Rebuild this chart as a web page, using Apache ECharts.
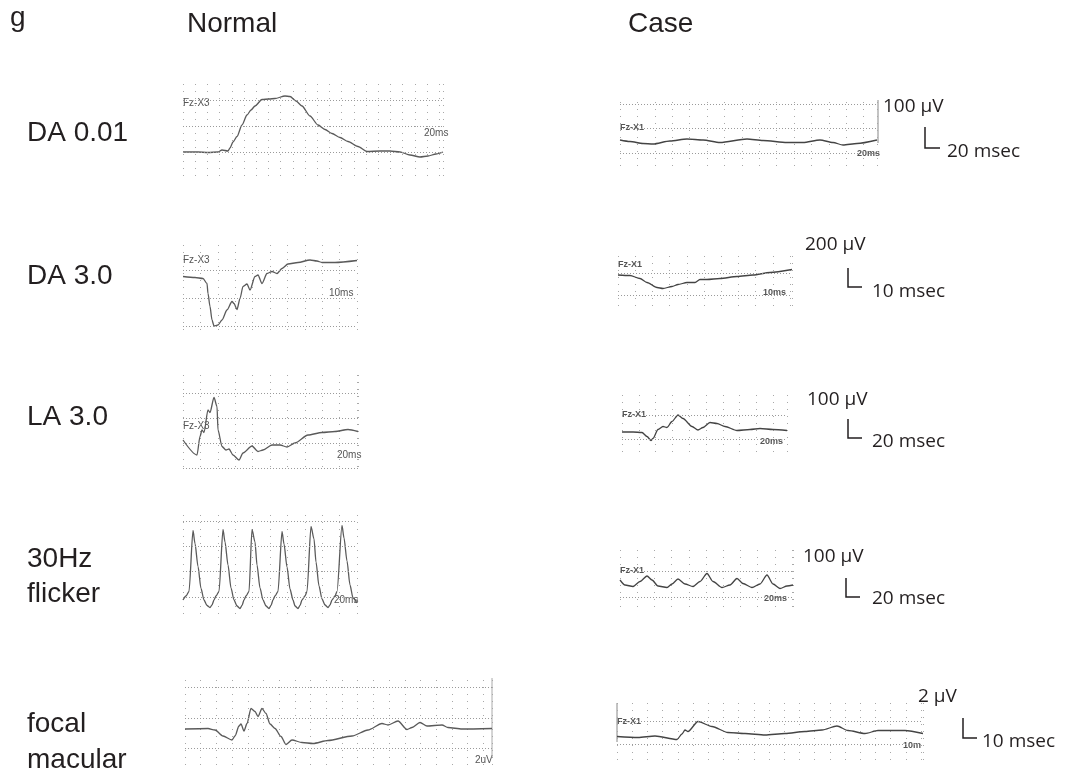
<!DOCTYPE html>
<html>
<head>
<meta charset="utf-8">
<script src="https://cdn.jsdelivr.net/npm/echarts@6/dist/echarts.min.js"></script>
<style>
  body { margin: 0; background: #fff; }
  #chart { width: 1066px; height: 775px; }
</style>
</head>
<body>
<div id="chart"></div>
<script>
// traces: [time ms, amplitude µV]
var normalDA001 = [[0,0],[15,0],[25,-1],[35,0],[39,4],[45,2],[47,8],[50,20],[54,31],[59,54],[64,74],[68,84],[72,92],[79,105],[86,106],[92,107],[102,112],[107,111],[113,102],[119,92],[127,72],[135,54],[142,45],[149,37],[157,29],[165,21],[175,11],[184,1],[197,2],[207,2],[217,0],[227,-6],[237,-10],[245,-8],[253,-4],[260,0]];
var caseDA001 = [[0,26],[10,23],[23,19],[33,18],[50,24],[67,28],[83,26],[100,21],[127,28],[143,25],[167,21],[183,21],[200,26],[213,21],[223,16],[237,19],[257,26]];
var normalDA30 = [[0,43],[12,41],[20,39],[24,29],[25,9],[27,-17],[29,-44],[31,-56],[35,-54],[39,-44],[44,-24],[49,-7],[51,-11],[54,-23],[57,-1],[60,23],[64,28],[67,16],[72,43],[75,46],[79,29],[84,49],[89,53],[94,49],[99,59],[105,68],[115,71],[127,76],[134,74],[139,71],[152,71],[174,75]];
var caseDA30 = [[0,40],[12,39],[22,33],[29,25],[39,15],[45,13],[54,17],[60,21],[69,25],[77,25],[82,31],[89,31],[102,33],[119,37],[135,40],[152,45],[174,51]];
var normalLA30 = [[0,6],[14,-24],[17,13],[19,26],[21,21],[25,66],[27,61],[31,91],[34,73],[35,26],[39,-7],[43,-14],[46,-12],[50,-24],[56,-34],[60,-20],[69,-6],[75,-17],[80,-14],[89,-4],[97,-4],[104,-8],[112,0],[125,16],[139,21],[152,23],[165,27],[175,23]];
var caseLA30 = [[0,14],[11,14],[20,13],[25,5],[29,-3],[31,1],[36,19],[41,25],[45,23],[50,35],[56,48],[61,41],[70,25],[76,18],[81,23],[88,33],[95,31],[103,25],[115,17],[128,19],[138,21],[151,19],[165,17]];
var normalFlicker = [[0,-6],[3,2],[6,11],[10,133],[12,107],[15,61],[18,17],[21,-6],[24,-17],[27,-21],[29,-16],[31,-6],[33,2],[36,11],
    [40,135],[42,110],[45,64],[48,18],[51,-6],[54,-18],[57,-23],[59,-17],[61,-6],[63,2],[66,11],
    [69,135],[72,110],[74,64],[77,18],[80,-6],[83,-18],[86,-23],[88,-17],[90,-6],[92,2],[95,11],
    [99,131],[101,106],[104,60],[107,16],[110,-6],[112,-18],[115,-23],[117,-17],[119,-6],[122,2],[124,11],
    [128,141],[131,116],[133,70],[136,22],[139,-4],[142,-16],[145,-21],[147,-16],[149,-6],[152,2],[154,11],
    [159,143],[161,118],[164,72],[167,24],[170,-2],[174,-12]];
var caseFlicker = [[0,34],[5,24],[13,21],[20,31],[27,42],[32,34],[38,22],[47,19],[52,26],[58,36],[65,26],[73,21],[80,31],[87,47],[93,31],[102,19],[110,24],[117,37],[123,27],[132,19],[140,26],[147,44],[153,26],[160,17],[167,22],[173,24]];
var normalMacular = [[0,-22],[23,-21],[30,-24],[38,-36],[47,-44],[50,-36],[54,-16],[56,-12],[59,-26],[62,-11],[66,19],[70,13],[73,3],[77,19],[81,9],[85,-12],[90,-21],[96,-37],[101,-53],[107,-44],[117,-49],[128,-51],[143,-45],[167,-36],[183,-24],[197,-11],[203,-14],[213,-6],[222,-23],[227,-19],[235,-9],[242,-16],[257,-14],[263,-19],[277,-22],[307,-21]];
var caseMacular = [[0,15],[21,13],[38,16],[60,9],[65,20],[68,28],[71,25],[81,45],[95,35],[111,23],[128,21],[148,18],[168,21],[188,25],[205,28],[220,36],[231,27],[248,21],[261,27],[275,27],[288,27],[306,21]];

// dotted horizontal gridline levels (µV) on each printout
var normalDA001Lines = [104, 52, 0];
var caseDA001Lines = [98, 49, 0];
var normalDA30Lines = [56, 0, -56];
var caseDA30Lines = [43, 0];
var normalLA30Lines = [100, 50, 0, -50];
var caseLA30Lines = [48, 0];
var normalFlickerLines = [151, 102, 51, 0];
var caseFlickerLines = [52, 0];
var normalMacularLines = [61, 0, -61];
var caseMacularLines = [45, 0];

var rowLabels = ['DA 0.01', 'DA 3.0', 'LA 3.0', '30Hz\nflicker', 'focal\nmacular'];
var scaleAmp = ['100 µV', '200 µV', '100 µV', '100 µV', '2 µV'];
var scaleTime = ['20 msec', '10 msec', '20 msec', '20 msec', '10 msec'];

var panels = [
    {data: normalDA001, lines: normalDA001Lines, left: 183, top: 84, width: 260, height: 94, xMax: 260, xStep: 12.2, yMin: -52, yMax: 136, color: '#5a5a5a'},
    {data: caseDA001, lines: caseDA001Lines, left: 620, top: 102, width: 257, height: 70, xMax: 257, xStep: 17.4, yMin: -38, yMax: 102, color: '#444'},
    {data: normalDA30, lines: normalDA30Lines, left: 183, top: 245, width: 174, height: 85, xMax: 174, xStep: 17.4, yMin: -64, yMax: 106, color: '#5a5a5a'},
    {data: caseDA30, lines: caseDA30Lines, left: 618, top: 256, width: 174, height: 53, xMax: 174, xStep: 17.2, yMin: -28, yMax: 78, color: '#444'},
    {data: normalLA30, lines: normalLA30Lines, left: 183, top: 375, width: 175, height: 95, xMax: 175, xStep: 17.4, yMin: -54, yMax: 136, color: '#5a5a5a'},
    {data: caseLA30, lines: caseLA30Lines, left: 622, top: 395, width: 165, height: 63, xMax: 165, xStep: 16.8, yMin: -38, yMax: 88, color: '#444'},
    {data: normalFlicker, lines: normalFlickerLines, left: 183, top: 515, width: 174, height: 102, xMax: 174, xStep: 17.4, yMin: -40, yMax: 164, color: '#5a5a5a'},
    {data: caseFlicker, lines: caseFlickerLines, left: 620, top: 550, width: 173, height: 62, xMax: 173, xStep: 17.2, yMin: -30, yMax: 94, color: '#444'},
    {data: normalMacular, lines: normalMacularLines, left: 185, top: 680, width: 307, height: 85, xMax: 307, xStep: 15.7, yMin: -94, yMax: 76, color: '#5a5a5a'},
    {data: caseMacular, lines: caseMacularLines, left: 617, top: 703, width: 306, height: 57, xMax: 306, xStep: 15.2, yMin: -32, yMax: 82, color: '#444'}
];

var chart = echarts.init(document.getElementById('chart'));

var grids = [], xAxes = [], yAxes = [], series = [];
panels.forEach(function (p, i) {
    grids.push({left: p.left, top: p.top, width: p.width, height: p.height});
    xAxes.push({
        gridIndex: i, type: 'value', min: 0, max: p.xMax, interval: p.xStep,
        axisLine: {show: false}, axisTick: {show: false}, axisLabel: {show: false},
        splitLine: {show: true, lineStyle: {color: '#a8a8a8', type: [1, 6], width: 1}}
    });
    yAxes.push({gridIndex: i, type: 'value', min: p.yMin, max: p.yMax, show: false});
    series.push({
        type: 'line',
        xAxisIndex: i,
        yAxisIndex: i,
        data: p.data,
        symbol: 'none',
        smooth: 0.25,
        smoothMonotone: 'x',
        lineStyle: {color: p.color, width: 1.3},
        markLine: {
            silent: true,
            symbol: ['none', 'none'],
            label: {show: false},
            lineStyle: {color: '#9a9a9a', type: [1, 2], width: 1},
            data: p.lines.map(function (v) { return {yAxis: v}; })
        }
    });
});

var graphics = [];
function addText(txt, x, y, font, fill) {
    graphics.push({type: 'text', style: {text: txt, x: x, y: y, font: font, fill: fill, textAlign: 'left', textVerticalAlign: 'middle'}});
}
function addLine(pts, color, w) {
    graphics.push({type: 'polyline', shape: {points: pts}, style: {stroke: color, lineWidth: w, fill: null}});
}

var bigFont = '28px "Liberation Sans", Arial, sans-serif';
addText('g', 10, 18, bigFont, '#231f20');
addText('Normal', 187, 24, bigFont, '#231f20');
addText('Case', 628, 24, bigFont, '#231f20');

var labelY = [[133], [276], [417], [559, 594], [724, 760]];
rowLabels.forEach(function (lab, r) {
    lab.split('\n').forEach(function (part, k) {
        addText(part, 27, labelY[r][k], bigFont, '#231f20');
    });
});

// scale bars beside the case traces
var scaleFont = '19px "Open Sans", sans-serif';
var ampPos = [[883, 107], [805, 245], [807, 400], [803, 557], [918, 697]];
var timePos = [[947, 152], [872, 292], [872, 442], [872, 599], [982, 742]];
var barPos = [[925, 127, 148, 940], [848, 268, 287, 862], [848, 419, 438, 862], [846, 578, 597, 860], [963, 718, 738, 977]];
scaleAmp.forEach(function (t, r) {
    addText(t, ampPos[r][0], ampPos[r][1], scaleFont, '#231f20');
    addText(scaleTime[r], timePos[r][0], timePos[r][1], scaleFont, '#231f20');
    var b = barPos[r];
    addLine([[b[0], b[1]], [b[0], b[2]], [b[3], b[2]]], '#231f20', 1.5);
});

// printout labels
var smallFont = '10px "Liberation Sans", Arial, sans-serif';
var smallBold = 'bold 9px "Liberation Sans", Arial, sans-serif';
var tags = [
    ['Fz-X3', 183, 103, smallFont], ['20ms', 424, 133, smallFont],
    ['Fz-X1', 620, 128, smallBold], ['20ms', 857, 154, smallBold],
    ['Fz-X3', 183, 260, smallFont], ['10ms', 329, 293, smallFont],
    ['Fz-X1', 618, 265, smallBold], ['10ms', 763, 293, smallBold],
    ['Fz-X3', 183, 426, smallFont], ['20ms', 337, 455, smallFont],
    ['Fz-X1', 622, 415, smallBold], ['20ms', 760, 442, smallBold],
    ['20ms', 334, 600, smallFont],
    ['Fz-X1', 620, 571, smallBold], ['20ms', 764, 599, smallBold],
    ['2uV', 475, 760, smallFont],
    ['Fz-X1', 617, 722, smallBold], ['10m', 903, 746, smallBold]
];
tags.forEach(function (t) { addText(t[0], t[1], t[2], t[3], '#555'); });

addLine([[878, 100], [878, 143]], '#888', 1);
addLine([[492, 678], [492, 757]], '#aaa', 1);
addLine([[617, 703], [617, 742]], '#888', 1);

chart.setOption({
    animation: false,
    grid: grids,
    xAxis: xAxes,
    yAxis: yAxes,
    series: series,
    graphic: {elements: graphics}
});
</script>
</body>
</html>
